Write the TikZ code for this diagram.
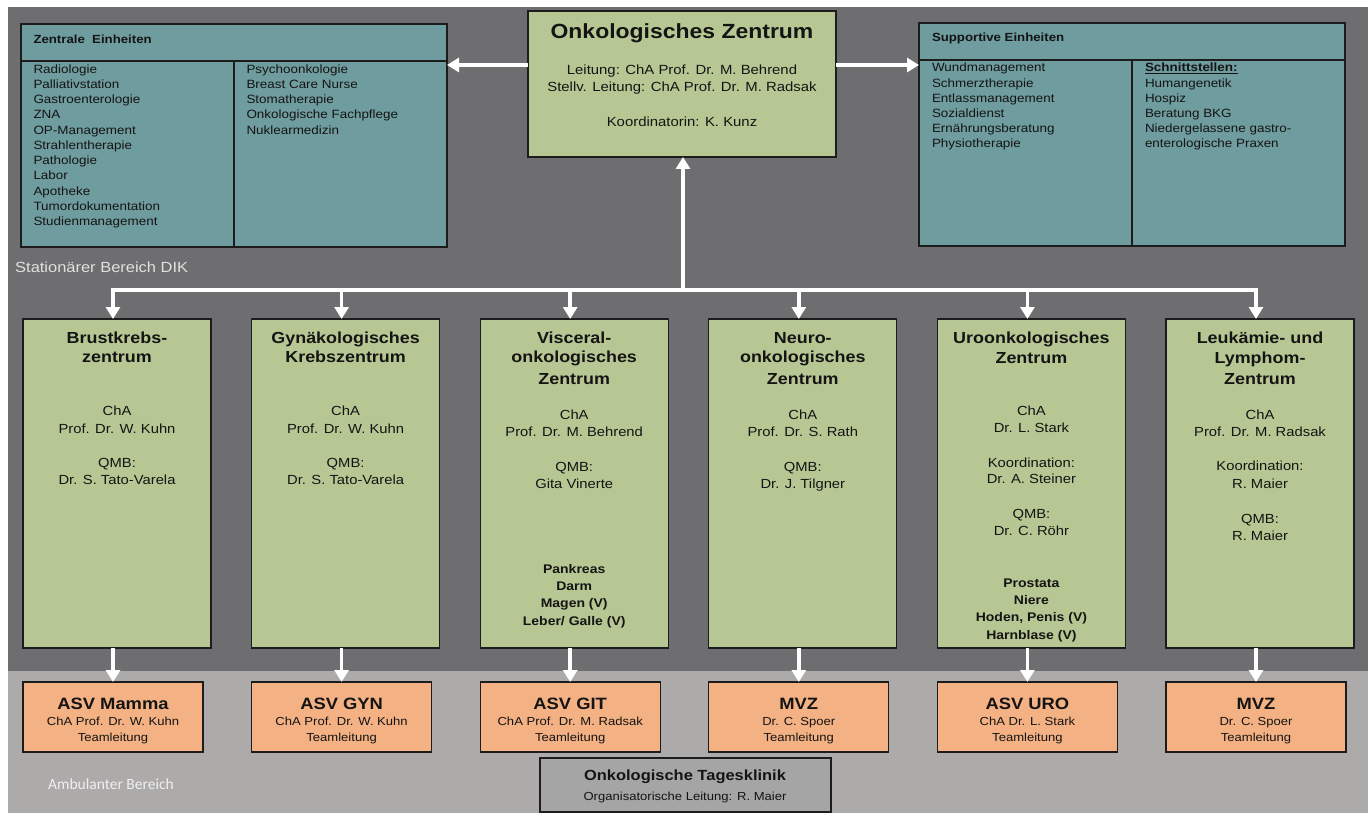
\documentclass[tikz,border=0pt]{standalone}
\usepackage{fontspec}
\setmainfont{Liberation Sans}[FakeStretch=1.12]
\newfontfamily\calib{Carlito}
\usetikzlibrary{arrows.meta,calc}
\definecolor{bgdark}{RGB}{110,110,112}
\definecolor{bglight}{RGB}{173,170,170}
\definecolor{tealbox}{RGB}{111,156,158}
\definecolor{greenbox}{RGB}{183,199,147}
\definecolor{orangebox}{RGB}{244,177,131}
\definecolor{graybox}{RGB}{165,165,165}
\definecolor{edge}{RGB}{28,28,28}
\definecolor{txt}{RGB}{20,20,20}
\tikzset{
  boxbase/.style={draw=edge, line width=1.2pt, inner sep=0pt, outer sep=0pt, anchor=north west},
  tbox/.style={boxbase, fill=tealbox},
  gbox/.style={boxbase, fill=greenbox, minimum width=188, minimum height=329},
  obox/.style={boxbase, fill=orangebox, minimum width=180, minimum height=70},
  kbox/.style={boxbase, fill=graybox},
  divline/.style={draw=edge, line width=1.2pt},
  wl/.style={draw=white, line width=3.5pt},
  arr/.style={wl, -{Triangle[width=14pt,length=12pt]}},
  txtbase/.style={inner sep=0pt, outer sep=0pt, text=txt},
  lst/.style={txtbase, anchor=base west, font=\fontsize{12}{14}\selectfont},
  hdr/.style={txtbase, anchor=base west, font=\fontsize{11.8}{14}\selectfont\bfseries},
  bigttl/.style={txtbase, anchor=base, font=\fontsize{20.5}{24}\selectfont\bfseries},
  ctr/.style={txtbase, anchor=base, font=\fontsize{13.3}{16}\selectfont},
  ttl/.style={txtbase, anchor=base, font=\fontsize{16}{19}\selectfont\bfseries},
  reg/.style={txtbase, anchor=base, font=\fontsize{13.2}{16}\selectfont},
  org/.style={txtbase, anchor=base, font=\fontsize{12.5}{15}\selectfont\bfseries},
  btl/.style={txtbase, anchor=base, font=\fontsize{16.4}{19}\selectfont\bfseries},
  bsm/.style={txtbase, anchor=base, font=\fontsize{11.65}{14}\selectfont},
}
\begin{document}
\begin{tikzpicture}[x=1pt,y=-1pt]
\useasboundingbox (0,0) rectangle (1370,813);
\fill[white] (0,0) rectangle (1370,813);
\fill[bgdark] (8,7) rectangle (1368,671);
\fill[bglight] (8,671) rectangle (1368,813);

% region labels
\node[inner sep=0pt, anchor=base west, text={rgb,255:red,225;green,225;blue,225}, font=\fontsize{14.7}{17}\selectfont] (stat) at (15,272.3) {Stationärer Bereich DIK};
\node[inner sep=0pt, anchor=base west, text={rgb,255:red,240;green,240;blue,240}, font=\calib\fontsize{15.5}{18}\selectfont] (amb) at (48,789) {Ambulanter Bereich};

% top boxes
\node[tbox, minimum width=426, minimum height=223] (ze) at (21,24) {};
\draw[divline] ($(ze.north west)+(0,37)$) -- ($(ze.north east)+(0,37)$);
\draw[divline] ($(ze.north west)+(213,37)$) -- ($(ze.south west)+(213,0)$);
\node[hdr] (zeh) at (33.5,43.2) {Zentrale\ \ Einheiten};
\foreach \t [count=\k from 0] in {Radiologie, Palliativstation, Gastroenterologie, ZNA, OP-Management, Strahlentherapie, Pathologie, Labor, Apotheke, Tumordokumentation, Studienmanagement}
  \node[lst] (zl\k) at (33.5,{73.3+15.23*\k}) {\t};
\foreach \t [count=\k from 0] in {Psychoonkologie, Breast Care Nurse, Stomatherapie, Onkologische Fachpflege, Nuklearmedizin}
  \node[lst] (zr\k) at (246.5,{73.3+15.23*\k}) {\t};

\node[tbox, minimum width=426, minimum height=223] (se) at (919,23) {};
\draw[divline] ($(se.north west)+(0,37)$) -- ($(se.north east)+(0,37)$);
\draw[divline] ($(se.north west)+(213,37)$) -- ($(se.south west)+(213,0)$);
\node[hdr] (seh) at (932,41.5) {Supportive Einheiten};
\foreach \t [count=\k from 0] in {Wundmanagement, Schmerztherapie, Entlassmanagement, Sozialdienst, Ernährungsberatung, Physiotherapie}
  \node[lst] (sl\k) at (932,{72+15.2*\k}) {\t};
\foreach \t [count=\k from 0] in {\underline{\textbf{Schnittstellen:}}, Humangenetik, Hospiz, Beratung BKG, Niedergelassene gastro-, enterologische Praxen}
  \node[lst] (sr\k) at (1145,{72+15.2*\k}) {\t};

% centre box
\node[boxbase, fill=greenbox, minimum width=308, minimum height=146] (oz) at (528,11) {};
\node[bigttl] (ozt) at (682,38.3) {Onkologisches Zentrum};
\node[ctr] (oz1) at (682,74.8) {Leitung: ChA Prof. Dr. M. Behrend};
\node[ctr] (oz2) at (682,91.8) {Stellv. Leitung: ChA Prof. Dr. M. Radsak};
\node[ctr] (oz3) at (682,126.8) {Koordinatorin: K. Kunz};

% middle and bottom boxes
\foreach \i in {1,...,6} {
  \pgfmathsetmacro\xl{23+228.6*(\i-1)}
  \node[gbox] (b\i) at (\xl,319) {};
  \node[obox] (a\i) at (\xl,682) {};
}

% Tagesklinik
\node[kbox, minimum width=291, minimum height=54] (tk) at (540,758) {};
\node[txtbase, anchor=base, font=\fontsize{14.7}{17}\selectfont\bfseries] (tkt) at (685,780.3) {Onkologische Tagesklinik};
\node[bsm] (tks) at (685,800.2) {Organisatorische Leitung: R. Maier};

% connectors
\coordinate (ay) at (0,65);
\draw[arr] (oz.west |- ay) -- (ze.east |- ay);
\draw[arr] (oz.east |- ay) -- (se.west |- ay);
\coordinate (tr) at (683,290);
\draw[wl, line cap=rect] (a1.north |- tr) -- (a6.north |- tr);
\draw[arr] (tr) -- (tr |- oz.south);
\foreach \i in {1,...,6} {
  \draw[arr] (a\i.north |- tr) -- (a\i.north |- b\i.north);
  \draw[arr] (a\i.north |- b\i.south) -- (a\i.north);
}

% box 1
\foreach \y/\t [count=\k] in {343.4/Brustkrebs-, 362.4/zentrum}
  \node[ttl] (b1t\k) at (117,\y) {\t};
\foreach \y/\t [count=\k] in {415.4/ChA, 433/{Prof. Dr. W. Kuhn}, 467.4/QMB:, 484/{Dr. S. Tato-Varela}}
  \node[reg] (b1r\k) at (117,\y) {\t};
% box 2
\foreach \y/\t [count=\k] in {343.4/Gynäkologisches, 362.4/Krebszentrum}
  \node[ttl] (b2t\k) at (345.6,\y) {\t};
\foreach \y/\t [count=\k] in {415.4/ChA, 433/{Prof. Dr. W. Kuhn}, 467.4/QMB:, 484/{Dr. S. Tato-Varela}}
  \node[reg] (b2r\k) at (345.6,\y) {\t};
% box 3
\foreach \y/\t [count=\k] in {343.4/Visceral-, 362.7/onkologisches, 384/Zentrum}
  \node[ttl] (b3t\k) at (574.2,\y) {\t};
\foreach \y/\t [count=\k] in {419/ChA, 436.4/{Prof. Dr. M. Behrend}, 471.4/QMB:, 488.7/{Gita Vinerte}}
  \node[reg] (b3r\k) at (574.2,\y) {\t};
\foreach \y/\t [count=\k] in {573.2/Pankreas, 590.5/Darm, 607.8/{Magen (V)}, 625.5/{Leber/ Galle (V)}}
  \node[org] (b3o\k) at (574.2,\y) {\t};
% box 4
\foreach \y/\t [count=\k] in {343.4/Neuro-, 362.7/onkologisches, 384/Zentrum}
  \node[ttl] (b4t\k) at (802.8,\y) {\t};
\foreach \y/\t [count=\k] in {419/ChA, 436.4/{Prof. Dr. S. Rath}, 471.4/QMB:, 488.7/{Dr. J. Tilgner}}
  \node[reg] (b4r\k) at (802.8,\y) {\t};
% box 5
\foreach \y/\t [count=\k] in {343.4/Uroonkologisches, 363.4/Zentrum}
  \node[ttl] (b5t\k) at (1031.4,\y) {\t};
\foreach \y/\t [count=\k] in {415.4/ChA, 432.4/{Dr. L. Stark}, 467.4/Koordination:, 483.7/{Dr. A. Steiner}, 518.7/QMB:, 535.4/{Dr. C. Röhr}}
  \node[reg] (b5r\k) at (1031.4,\y) {\t};
\foreach \y/\t [count=\k] in {587.2/Prostata, 604.5/Niere, 621.8/{Hoden, Penis (V)}, 639.5/{Harnblase (V)}}
  \node[org] (b5o\k) at (1031.4,\y) {\t};
% box 6
\foreach \y/\t [count=\k] in {343.4/{Leukämie- und}, 363.4/Lymphom-, 384/Zentrum}
  \node[ttl] (b6t\k) at (1260,\y) {\t};
\foreach \y/\t [count=\k] in {419/ChA, 436.4/{Prof. Dr. M. Radsak}, 470.7/Koordination:, 488.7/{R. Maier}, 523/QMB:, 540.4/{R. Maier}}
  \node[reg] (b6r\k) at (1260,\y) {\t};

% bottom box texts
\foreach \i/\a/\b [evaluate=\i as \cx using 113+228.6*(\i-1)] in {1/{ASV Mamma}/{ChA Prof. Dr. W. Kuhn}, 2/{ASV GYN}/{ChA Prof. Dr. W. Kuhn}, 3/{ASV GIT}/{ChA Prof. Dr. M. Radsak}, 4/MVZ/{Dr. C. Spoer}, 5/{ASV URO}/{ChA Dr. L. Stark}, 6/MVZ/{Dr. C. Spoer}} {
  \node[btl] (at\i) at (\cx,709.9) {\a};
  \node[bsm] (as\i) at (\cx,725.2) {\b};
  \node[bsm] (au\i) at (\cx,741.2) {Teamleitung};
}
\end{tikzpicture}
\end{document}
